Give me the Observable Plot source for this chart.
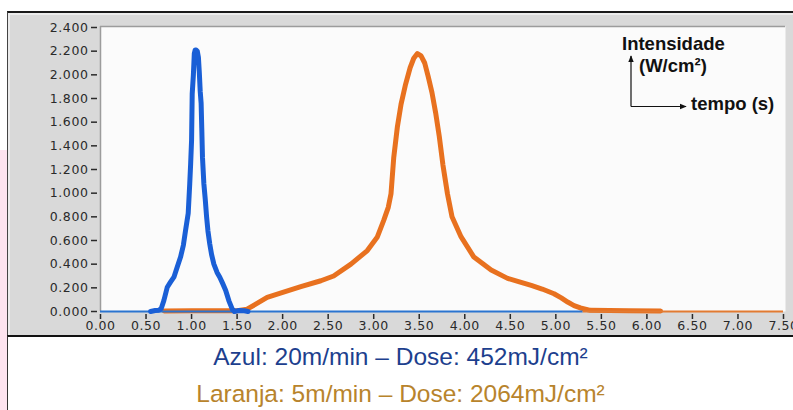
<!DOCTYPE html>
<html>
<head>
<meta charset="utf-8">
<script src="https://cdn.jsdelivr.net/npm/d3@7"></script>
<script src="https://cdn.jsdelivr.net/npm/@observablehq/plot@0.6"></script>
<style>
  html, body { margin: 0; padding: 0; background: #fff; }
  #wrap { position: relative; width: 793px; height: 410px; background: #fff; overflow: hidden; }
  #pink { position: absolute; left: 0; top: 150px; width: 7px; height: 260px; background: #fde3ef; }
  #panel { position: absolute; left: 7px; top: 11px; width: 786px; height: 325px; background: #d9d9d9;
           border-top: 2px solid #1a1a1a; border-left: 1px solid #444; box-sizing: border-box;
           box-shadow: inset 2px 2px 0 #ececec; }
  #chart { position: absolute; left: 0; top: 0; }
  #chart svg text { letter-spacing: 0.6px; }
  #ann { position: absolute; left: 0; top: 0; }
  #caption { position: absolute; left: 7px; top: 335px; width: 786px; height: 75px; background: #fff;
             border-top: 2px solid #111; border-left: 1px solid #333; box-sizing: border-box;
             font-family: "Liberation Sans", Arial, sans-serif; font-size: 24.5px; text-align: center; }
  #caption div { position: absolute; left: 0; width: 100%; line-height: 24px; }
</style>
</head>
<body>
<div id="wrap">
  <div id="pink"></div>
  <div id="panel"></div>
  <div id="chart"></div>
  <svg id="ann" width="793" height="336" font-family="Liberation Sans, Arial, sans-serif" font-weight="bold" font-size="18.5">
    <defs>
      <marker id="ah" viewBox="0 0 10 10" refX="9" refY="5" markerWidth="6" markerHeight="6" orient="auto">
        <path d="M0,1 L10,5 L0,9 z" fill="#111"/>
      </marker>
    </defs>
    <text x="622" y="50" fill="#111">Intensidade</text>
    <text x="639" y="72" fill="#111">(W/cm²)</text>
    <text x="691" y="110" fill="#111">tempo (s)</text>
    <line x1="631" y1="106.5" x2="631" y2="56" stroke="#111" stroke-width="1.2" marker-end="url(#ah)"/>
    <line x1="631" y1="106.5" x2="686" y2="106.5" stroke="#111" stroke-width="1.2" marker-end="url(#ah)"/>
  </svg>
  <div id="caption">
    <div id="cap1" style="top:8px;color:#1d3f8e;">Azul: 20m/min – Dose: 452mJ/cm²</div>
    <div id="cap2" style="top:45px;color:#b8842c;">Laranja: 5m/min – Dose: 2064mJ/cm²</div>
  </div>
</div>
<script>
// Tick labels
const xTicks = [0, 0.5, 1, 1.5, 2, 2.5, 3, 3.5, 4, 4.5, 5, 5.5, 6, 6.5, 7, 7.5];
const yTicks = [0, 0.2, 0.4, 0.6, 0.8, 1.0, 1.2, 1.4, 1.6, 1.8, 2.0, 2.2, 2.4];

// Azul (20 m/min): tempo (s), intensidade (W/cm²)
const azulT = [0.55, 0.60, 0.64, 0.667, 0.696, 0.733, 0.77, 0.806, 0.84, 0.879, 0.91, 0.934, 0.963, 0.98, 0.99, 1.0, 1.007, 1.02, 1.03, 1.04, 1.05, 1.063, 1.075, 1.085, 1.095, 1.105, 1.112, 1.12, 1.135, 1.15, 1.165, 1.18, 1.2, 1.22, 1.245, 1.28, 1.31, 1.34, 1.374, 1.41, 1.447, 1.47, 1.52, 1.58, 1.62];
const azulI = [0.0, 0.008, 0.01, 0.025, 0.093, 0.205, 0.25, 0.29, 0.37, 0.46, 0.56, 0.685, 0.83, 1.08, 1.25, 1.445, 1.84, 2.0, 2.18, 2.21, 2.21, 2.2, 2.15, 2.02, 1.86, 1.76, 1.55, 1.30, 1.08, 0.95, 0.80, 0.68, 0.57, 0.48, 0.40, 0.33, 0.29, 0.24, 0.18, 0.09, 0.02, 0.0, 0.008, 0.006, 0.0];

// Laranja (5 m/min)
const laranjaT = [0.70, 1.0, 1.3, 1.50, 1.61, 1.70, 1.83, 2.01, 2.2, 2.42, 2.56, 2.75, 2.93, 3.04, 3.11, 3.16, 3.19, 3.22, 3.26, 3.30, 3.35, 3.40, 3.44, 3.48, 3.52, 3.56, 3.60, 3.64, 3.68, 3.72, 3.76, 3.81, 3.86, 3.96, 4.10, 4.29, 4.47, 4.60, 4.73, 4.85, 4.98, 5.06, 5.13, 5.20, 5.27, 5.38, 5.8, 6.15];
const laranjaI = [0.005, 0.006, 0.006, 0.006, 0.02, 0.06, 0.12, 0.163, 0.21, 0.26, 0.30, 0.40, 0.515, 0.63, 0.77, 0.88, 0.995, 1.3, 1.56, 1.75, 1.92, 2.06, 2.14, 2.18, 2.16, 2.10, 1.98, 1.85, 1.68, 1.48, 1.24, 0.995, 0.80, 0.63, 0.46, 0.35, 0.28, 0.25, 0.22, 0.19, 0.15, 0.115, 0.08, 0.05, 0.03, 0.01, 0.006, 0.005];

// Baseline segments (intensidade zero)
const baseFrom = [0, 5.3];
const baseTo = [5.3, 7.5];
const baseSeries = ["Azul", "Laranja"];

const azul = azulT.map((t, i) => ({t, v: azulI[i]}));
const laranja = laranjaT.map((t, i) => ({t, v: laranjaI[i]}));
const base = baseFrom.map((f, i) => ({from: f, to: baseTo[i], s: baseSeries[i]}));
const colors = {Azul: "#1a5fd6", Laranja: "#e8711f"};
const baseColors = {Azul: "#2a74d0", Laranja: "#e27b32"};

const chart = Plot.plot({
  width: 793,
  height: 336,
  marginLeft: 100,
  marginRight: 10,
  marginTop: 27,
  marginBottom: 25,
  style: {background: "transparent", fontFamily: "DejaVu Sans, Verdana, sans-serif", color: "#2a2a2a"},
  x: {domain: [0, 7.5]},
  y: {domain: [0, 2.4]},
  marks: [
    Plot.frame({fill: "#fbfbfb", stroke: null, insetRight: -2, insetTop: -1}),
    Plot.ruleY([2.4], {stroke: "#9c9c9c", strokeWidth: 1.5, dy: -1, insetRight: -2}),
    Plot.ruleX([0], {stroke: "#9c9c9c", strokeWidth: 1.5, insetTop: -1}),
    Plot.axisY({ticks: yTicks, tickFormat: d3.format(".3f"), tickSize: 6, tickPadding: 3, dx: -3, label: null, strokeWidth: 1.5, fontSize: 12.5}),
    Plot.axisX({ticks: xTicks, tickFormat: d3.format(".2f"), tickSize: 5, tickPadding: 2, dy: 3, label: null, strokeWidth: 1.5, fontSize: 12.5}),
    Plot.line(laranja, {x: "t", y: "v", stroke: colors.Laranja, strokeWidth: 5, curve: "linear"}),
    Plot.ruleY(base, {y: 0, x1: "from", x2: "to", stroke: d => baseColors[d.s], strokeWidth: 2.2}),
    Plot.line(azul, {x: "t", y: "v", stroke: colors.Azul, strokeWidth: 5, curve: "linear"})
  ]
});
document.getElementById("chart").appendChild(chart);
</script>
</body>
</html>
